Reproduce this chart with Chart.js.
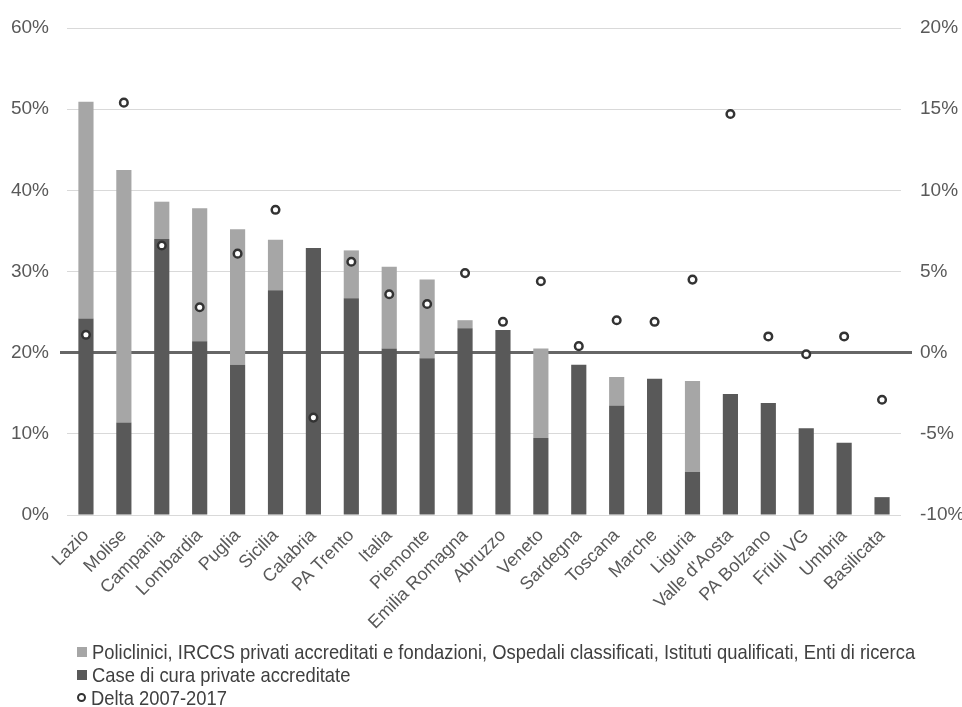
<!DOCTYPE html>
<html>
<head>
<meta charset="utf-8">
<script src="https://cdn.jsdelivr.net/npm/chart.js@4.4.1/dist/chart.umd.min.js"></script>
<style>
  html, body { margin: 0; padding: 0; background: #ffffff; }
  #wrap { position: relative; width: 962px; height: 707px; overflow: hidden; }
  #legend {
    position: absolute; left: 77px; top: 640px;
    font-family: "Liberation Sans", Arial, sans-serif;
    font-size: 21px; color: #404040;
  }
  .item { display: flex; align-items: center; white-space: nowrap; height: 23px; }
  .sw { width: 10px; height: 10px; margin-right: 5px; flex: none; }
  .ring { width: 5px; height: 5px; border: 2.5px solid #333333; border-radius: 50%; background: #ffffff; margin-right: 5px; flex: none; }
  .txt { display: inline-block; transform: scaleX(0.875); transform-origin: left center; }
</style>
</head>
<body>
<div id="wrap">
  <canvas id="c" width="962" height="707"></canvas>
  <div id="legend">
    <div class="item"><span class="sw" style="background:#a6a6a6"></span><span class="txt" id="l1"></span></div>
    <div class="item"><span class="sw" style="background:#595959"></span><span class="txt" id="l2"></span></div>
    <div class="item"><span class="ring"></span><span class="txt" id="l3"></span></div>
  </div>
</div>
<script>
const categories = ['Lazio','Molise','Campania','Lombardia','Puglia','Sicilia','Calabria','PA Trento','Italia','Piemonte','Emilia Romagna','Abruzzo','Veneto','Sardegna','Toscana','Marche','Liguria',"Valle d'Aosta",'PA Bolzano','Friuli VG','Umbria','Basilicata'];

const seriesNames = [
  'Policlinici, IRCCS privati accreditati e fondazioni, Ospedali classificati, Istituti qualificati, Enti di ricerca',
  'Case di cura private accreditate',
  'Delta 2007-2017'
];

// Case di cura private accreditate (bottom segment, left axis, %)
const caseDiCura = [24.2, 11.4, 34.0, 21.4, 18.5, 27.7, 32.9, 26.7, 20.5, 19.3, 23.0, 22.8, 9.5, 18.5, 13.5, 16.8, 5.3, 14.9, 13.8, 10.7, 8.9, 2.2];

// Policlinici, IRCCS ... (top segment, left axis, %)
const policlinici = [26.7, 31.1, 4.6, 16.4, 16.7, 6.2, 0, 5.9, 10.1, 9.7, 1.0, 0, 11.0, 0, 3.5, 0, 11.2, 0, 0, 0, 0, 0];

// Delta 2007-2017 (right axis, %)
const delta = [1.1, 15.4, 6.6, 2.8, 6.1, 8.8, -4.0, 5.6, 3.6, 3.0, 4.9, 1.9, 4.4, 0.4, 2.0, 1.9, 4.5, 14.7, 1.0, -0.1, 1.0, -2.9];

const leftTicks = { min: 0, max: 60, step: 10 };
const rightTicks = { min: -10, max: 20, step: 5 };

document.getElementById('l1').textContent = seriesNames[0];
document.getElementById('l2').textContent = seriesNames[1];
document.getElementById('l3').textContent = seriesNames[2];

const FONT = '"Liberation Sans", Arial, sans-serif';
const tickColor = '#595959';

new Chart(document.getElementById('c'), {
  type: 'bar',
  data: {
    labels: categories,
    datasets: [
      {
        type: 'line',
        label: seriesNames[2],
        data: delta,
        yAxisID: 'y1',
        showLine: false,
        pointRadius: 3.8,
        pointBorderWidth: 2.5,
        pointBorderColor: '#333333',
        pointBackgroundColor: '#ffffff',
        order: 0
      },
      {
        label: seriesNames[1],
        data: caseDiCura,
        backgroundColor: '#595959',
        stack: 's',
        yAxisID: 'y',
        order: 1,
        barPercentage: 0.4,
        categoryPercentage: 1.0
      },
      {
        label: seriesNames[0],
        data: policlinici,
        backgroundColor: '#a6a6a6',
        stack: 's',
        yAxisID: 'y',
        order: 2,
        barPercentage: 0.4,
        categoryPercentage: 1.0
      }
    ]
  },
  options: {
    responsive: false,
    animation: false,
    layout: { padding: { top: 28, left: 0, right: 0, bottom: 0 } },
    plugins: { legend: { display: false }, tooltip: { enabled: false } },
    scales: {
      x: {
        stacked: true,
        grid: { display: false },
        border: { display: false },
        ticks: {
          color: tickColor,
          font: { family: FONT, size: 18 },
          minRotation: 45, maxRotation: 45,
          padding: 2,
          autoSkip: false
        },
        afterFit(scale) { scale.height = 192; }
      },
      y: {
        position: 'left',
        stacked: true,
        min: leftTicks.min, max: leftTicks.max,
        border: { display: false },
        grid: {
          color: ctx => ctx.tick && ctx.tick.value === 20 ? '#666666' : '#d9d9d9',
          lineWidth: ctx => ctx.tick && ctx.tick.value === 20 ? 3 : 1,
          tickColor: ctx => ctx.tick && ctx.tick.value === 20 ? '#666666' : 'rgba(0,0,0,0)',
          tickLength: 7
        },
        ticks: {
          stepSize: leftTicks.step,
          color: tickColor,
          font: { family: FONT, size: 19 },
          padding: 11,
          callback: v => v + '%'
        },
        afterFit(scale) { scale.width = 67; }
      },
      y1: {
        position: 'right',
        min: rightTicks.min, max: rightTicks.max,
        border: { display: false },
        grid: {
          drawOnChartArea: false,
          tickColor: ctx => ctx.tick && ctx.tick.value === 0 ? '#666666' : 'rgba(0,0,0,0)',
          tickWidth: 3,
          tickLength: 11
        },
        ticks: {
          stepSize: rightTicks.step,
          color: tickColor,
          font: { family: FONT, size: 19 },
          padding: 8,
          callback: v => v + '%'
        },
        afterFit(scale) { scale.width = 61; }
      }
    }
  }
});
</script>
</body>
</html>
